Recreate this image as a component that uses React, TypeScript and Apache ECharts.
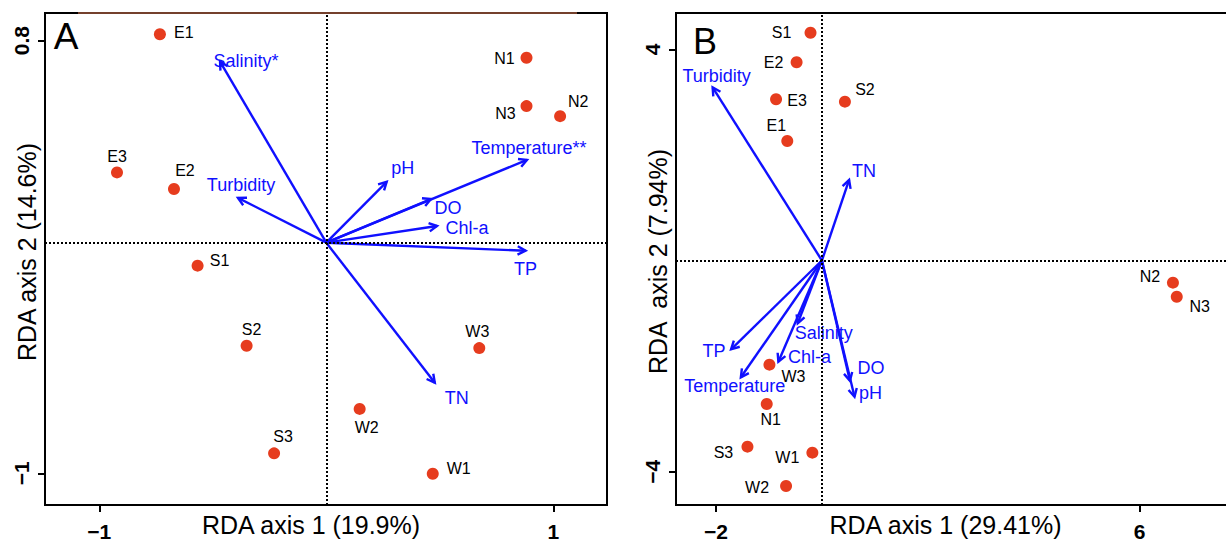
import React, { useEffect, useRef } from "react";
import * as echarts from "echarts";

// ---------- Panel A data ----------
const sitesA = ["E1", "N1", "N3", "N2", "E3", "E2", "S1", "S2", "W3", "W2", "S3", "W1"];
const siteXA = [-0.733, 0.882, 0.882, 1.030, -0.922, -0.671, -0.567, -0.351, 0.674, 0.147, -0.230, 0.469];
const siteYA = [0.827, 0.729, 0.528, 0.486, 0.252, 0.183, -0.136, -0.469, -0.479, -0.732, -0.917, -1.002];
const varsA = ["Salinity*", "Turbidity", "pH", "Temperature**", "DO", "Chl-a", "TP", "TN"];
const varXA = [-0.468, -0.389, 0.266, 0.884, 0.461, 0.488, 0.878, 0.478];
const varYA = [0.713, 0.146, 0.213, 0.304, 0.141, 0.029, -0.074, -0.623];
const originA = [0, -0.0404];
const xTicksA = [-1, 1];
const yTicksA = [-1, 0.8];

// ---------- Panel B data ----------
const sitesB = ["S1", "E2", "E3", "S2", "E1", "N2", "N3", "W3", "N1", "S3", "W1", "W2"];
const siteXB = [-0.215, -0.478, -0.866, 0.435, -0.654, 6.631, 6.703, -0.991, -1.042, -1.406, -0.180, -0.677];
const siteYB = [4.314, 3.754, 3.053, 3.008, 2.263, -0.420, -0.686, -1.973, -2.718, -3.526, -3.640, -4.271];
const varsB = ["Turbidity", "TN", "TP", "Temperature", "Chl-a", "Salinity", "DO", "pH"];
const varXB = [-2.064, 0.514, -1.715, -1.531, -0.822, -0.457, 0.529, 0.616];
const varYB = [3.280, 1.525, -1.682, -2.212, -1.917, -1.189, -2.276, -2.580];
const originB = [0, 0];
const xTicksB = [-2, 6];
const yTicksB = [-4, 4];

// ---------- label placement (pixels, relative to mark) ----------
const siteLabelOffA = [[24, -2], [-22, 1], [-21, 7], [18, -15], [0, -16], [11, -18], [22, -5], [5, -16], [-2, -17], [7, 19], [9, -17], [26, -5]];
const siteLabelOffB = [[-29, 0], [-23, 0], [21, 1], [20, -12], [-11, -16], [-23, -6], [23, 10], [24, 12], [4, 16], [-24, 6], [-25, 5], [-29, 2]];
const varLabelOffA = [[26, -1], [3, -13], [16, -14], [2, -12], [17, 9], [30, 2], [0, 18], [22, 15]];
const varLabelOffB = [[4, -11], [15, -9], [-17, 2], [-6, 9], [31, -5], [26, 10], [21, -13], [16, -4]];

const FONT = "'Liberation Sans', Arial, Helvetica, sans-serif";
const RED = "#e63c1e";
const BLUE = "#1010ff";

const fmt = (v: number) => (v < 0 ? "\u2212" + Math.abs(v) : String(v));

function arrowRenderer(names: string[], offs: number[][]) {
  return (params: any, api: any) => {
    const p0 = api.coord([api.value(0), api.value(1)]);
    const p1 = api.coord([api.value(2), api.value(3)]);
    const ang = Math.atan2(p1[1] - p0[1], p1[0] - p0[0]);
    const L = 9;
    const a = (28 * Math.PI) / 180;
    const h1 = [p1[0] - L * Math.cos(ang - a), p1[1] - L * Math.sin(ang - a)];
    const h2 = [p1[0] - L * Math.cos(ang + a), p1[1] - L * Math.sin(ang + a)];
    const i = params.dataIndex;
    return {
      type: "group",
      children: [
        { type: "line", shape: { x1: p0[0], y1: p0[1], x2: p1[0], y2: p1[1] }, style: { stroke: BLUE, lineWidth: 2.4 } },
        { type: "polyline", shape: { points: [h1, p1, h2] }, style: { stroke: BLUE, lineWidth: 2.4, fill: "none" } },
        {
          type: "text",
          x: p1[0] + offs[i][0],
          y: p1[1] + offs[i][1],
          style: { text: names[i], fill: BLUE, fontSize: 18, fontFamily: FONT, align: "center", verticalAlign: "middle" },
        },
      ],
    };
  };
}

function valueAxis(gridIndex: number, min: number, max: number, ticks: number[], isY: boolean, name: string, namePad: number[], nameGap: number) {
  return {
    type: "value",
    gridIndex,
    min,
    max,
    name,
    nameLocation: "middle",
    nameGap,
    nameMoveOverlap: false,
    nameTextStyle: { fontSize: 25, color: "#000", fontFamily: FONT, padding: namePad },
    axisLine: { show: true, onZero: false, lineStyle: { color: "#000", width: 2 } },
    axisTick: { show: true, customValues: ticks, length: 7, lineStyle: { color: "#000", width: 2 } },
    axisLabel: {
      customValues: ticks,
      formatter: fmt,
      fontSize: 21,
      fontWeight: "bold",
      color: "#000",
      fontFamily: FONT,
      margin: isY ? 13 : 16,
      rotate: isY ? 90 : 0,
    },
    splitLine: { show: false },
  };
}

export default function App() {
  const ref = useRef<HTMLDivElement>(null);
  useEffect(() => {
    document.body.style.margin = "0";
    const chart = echarts.init(ref.current!, undefined, { renderer: "svg" });
    const cross = (y0: number) => ({
      silent: true,
      symbol: "none",
      label: { show: false },
      lineStyle: { color: "#000", type: [2, 2], width: 2 },
      emphasis: { disabled: true },
      data: [{ xAxis: 0 }, { yAxis: y0 }],
    });
    const scatter = (names: string[], xs: number[], ys: number[], offs: number[][], idx: number, y0: number) => ({
      type: "scatter",
      xAxisIndex: idx,
      yAxisIndex: idx,
      symbolSize: 12,
      itemStyle: { color: RED, opacity: 1 },
      z: 3,
      label: {
        show: true,
        position: "inside",
        formatter: "{b}",
        color: "#000",
        textBorderWidth: 0,
        fontSize: 16,
        fontFamily: FONT,
      },
      data: names.map((n, i) => ({ name: n, value: [xs[i], ys[i]], label: { offset: offs[i] } })),
      markLine: cross(y0),
    });
    const arrows = (names: string[], xs: number[], ys: number[], origin: number[], offs: number[][], idx: number) => ({
      type: "custom",
      coordinateSystem: "cartesian2d",
      xAxisIndex: idx,
      yAxisIndex: idx,
      z: 4,
      clip: false,
      encode: { x: [0, 2], y: [1, 3] },
      renderItem: arrowRenderer(names, offs),
      data: names.map((n, i) => [origin[0], origin[1], xs[i], ys[i]]),
    });
    chart.setOption({
      animation: false,
      backgroundColor: "#fff",
      grid: [
        { left: 45, top: 13, right: 619, bottom: 37, containLabel: false, outerBoundsMode: "none", show: true, borderColor: "#000", borderWidth: 2, backgroundColor: "transparent" },
        { left: 676, top: 13, right: -20, bottom: 37, containLabel: false, outerBoundsMode: "none", show: true, borderColor: "#000", borderWidth: 2, backgroundColor: "transparent" },
      ],
      xAxis: [
        valueAxis(0, -1.2392, 1.2366, xTicksA, false, "RDA axis 1 (19.9%)", [0, 30, 0, 0], 7),
        valueAxis(1, -2.756, 8.011, xTicksB, false, "RDA axis 1 (29.41%)", [0, 31, 0, 0], 7),
      ],
      yAxis: [
        valueAxis(0, -1.1319, 0.9153, yTicksA, true, "RDA axis 2 (14.6%)", [0, 0, 0, 14], 6),
        valueAxis(1, -4.631, 4.6875, yTicksB, true, "RDA  axis 2 (7.94%)", [0, 5, 0, 0], 6),
      ],
      graphic: [
        { type: "line", shape: { x1: 78, y1: 13, x2: 577, y2: 13 }, style: { stroke: "#74402c", lineWidth: 2 }, z: 100 },
        { type: "text", x: 66, y: 36, style: { text: "A", fontSize: 37, fontFamily: FONT, fill: "#000", align: "center", verticalAlign: "middle" } },
        { type: "text", x: 705, y: 41, style: { text: "B", fontSize: 36, fontFamily: FONT, fill: "#000", align: "center", verticalAlign: "middle" } },
      ],
      series: [
        scatter(sitesA, siteXA, siteYA, siteLabelOffA, 0, originA[1]),
        arrows(varsA, varXA, varYA, originA, varLabelOffA, 0),
        scatter(sitesB, siteXB, siteYB, siteLabelOffB, 1, originB[1]),
        arrows(varsB, varXB, varYB, originB, varLabelOffB, 1),
      ],
    });
    return () => chart.dispose();
  }, []);
  return <div ref={ref} style={{ width: 1226, height: 542 }} />;
}
